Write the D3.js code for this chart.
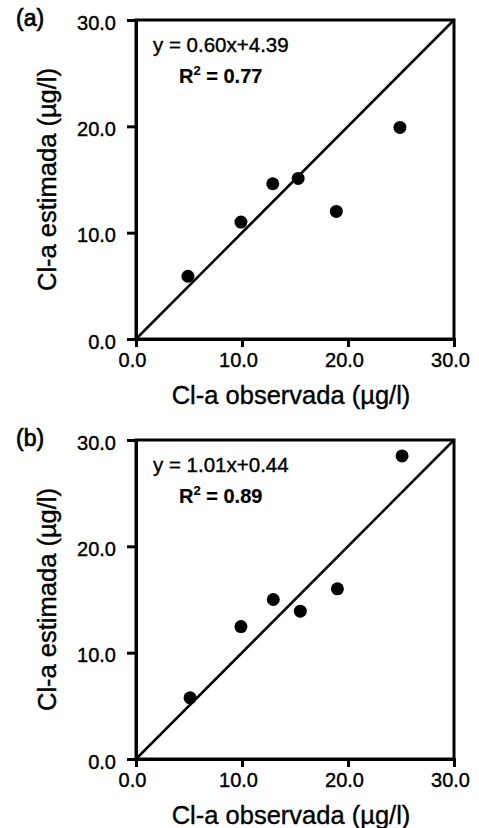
<!DOCTYPE html>
<html>
<head>
<meta charset="utf-8">
<script src="https://cdn.jsdelivr.net/npm/d3@7/dist/d3.min.js"></script>
<style>
	body { margin: 0; background: #fff; }
	svg text { font-family: "Liberation Sans", Arial, sans-serif; fill: #000; stroke: #000; stroke-width: 0.4px; }
</style>
</head>
<body>
<div id="chart"></div>
<script>
// axis ticks shared by both panels
const ticks = [0, 10, 20, 30];

// panel (a)
const obsA = [4.9, 9.9, 12.9, 15.3, 18.9, 24.9];
const estA = [5.9, 11.0, 14.6, 15.1, 12.0, 19.9];
const eqA = "y = 0.60x+4.39";
const r2A = "0.77";

// panel (b)
const obsB = [5.1, 9.9, 12.95, 15.5, 19.0, 25.1];
const estB = [5.75, 12.45, 15.0, 13.9, 16.0, 28.5];
const eqB = "y = 1.01x+0.44";
const r2B = "0.89";

const panels = [
	{label: "(a)", obs: obsA, est: estA, eq: eqA, r2: r2A},
	{label: "(b)", obs: obsB, est: estB, eq: eqB, r2: r2B}
];

const W = 479, H = 828;
const margin = {left: 136, top: 20};
const w = 318, h = 319;
const panelStep = 420;

const svg = d3.select("#chart")
	.append("svg")
	.attr("width", W)
	.attr("height", H);

const x = d3.scaleLinear().domain([0, 30]).range([0, w]);
const y = d3.scaleLinear().domain([0, 30]).range([h, 0]);
const fmt = d3.format(".1f");

panels.forEach(function (p, k) {
	const g = svg.append("g")
		.attr("transform", "translate(" + margin.left + "," + (margin.top + k * panelStep) + ")");

	// frame (top + right)
	g.append("rect")
		.attr("x", 0).attr("y", 0)
		.attr("width", w).attr("height", h)
		.style("fill", "none")
		.style("stroke", "#000")
		.style("stroke-width", "3px");

	// x axis
	const xa = g.append("g")
		.attr("transform", "translate(0," + h + ")")
		.call(d3.axisBottom(x).tickValues(ticks).tickFormat(fmt).tickSize(8).tickPadding(6));
	xa.select(".domain").style("stroke-width", "3px");
	xa.selectAll(".tick line").style("stroke-width", "3px");
	xa.selectAll(".tick text")
		.attr("font-size", "20px")
		.attr("dx", "-4");

	// y axis
	const ya = g.append("g")
		.call(d3.axisLeft(y).tickValues(ticks).tickFormat(fmt).tickSize(9).tickPadding(11));
	ya.select(".domain").style("stroke-width", "3px");
	ya.selectAll(".tick line").style("stroke-width", "3px");
	ya.selectAll(".tick text")
		.attr("font-size", "20px")
		.attr("dy", "0.45em");

	// 1:1 line
	g.append("line")
		.attr("x1", x(0)).attr("y1", y(0))
		.attr("x2", x(30)).attr("y2", y(30))
		.style("stroke", "#000")
		.style("stroke-width", "2.5px");

	// points
	g.selectAll(".dot")
		.data(p.obs.map(function (v, i) { return [v, p.est[i]]; }))
		.enter()
		.append("circle")
		.attr("class", "dot")
		.attr("cx", function (d) { return x(d[0]); })
		.attr("cy", function (d) { return y(d[1]); })
		.attr("r", 6.5)
		.style("fill", "#000");

	// regression text
	g.append("text")
		.attr("x", 17).attr("y", 32)
		.attr("font-size", "20.5px")
		.text(p.eq);

	const r = g.append("text")
		.attr("x", 43).attr("y", 63)
		.attr("font-size", "20px")
		.attr("font-weight", "bold")
		.style("stroke-width", "0.2px");
	r.append("tspan").text("R");
	r.append("tspan").attr("font-size", "13px").attr("dy", "-8").text("2");
	r.append("tspan").attr("dy", "8").text(" = " + p.r2);

	// panel label
	g.append("text")
		.attr("x", 16 - margin.left).attr("y", 6)
		.attr("font-size", "23px")
		.style("stroke-width", "0.7px")
		.text(p.label);

	// axis titles
	g.append("text")
		.attr("x", w / 2 - 4).attr("y", h + 65)
		.attr("text-anchor", "middle")
		.attr("font-size", "25.5px")
		.text("Cl-a observada (µg/l)");

	g.append("text")
		.attr("transform", "translate(" + (56 - margin.left) + "," + (h / 2) + ") rotate(-90)")
		.attr("text-anchor", "middle")
		.attr("font-size", "25.5px")
		.text("Cl-a estimada (µg/l)");
});
</script>
</body>
</html>
